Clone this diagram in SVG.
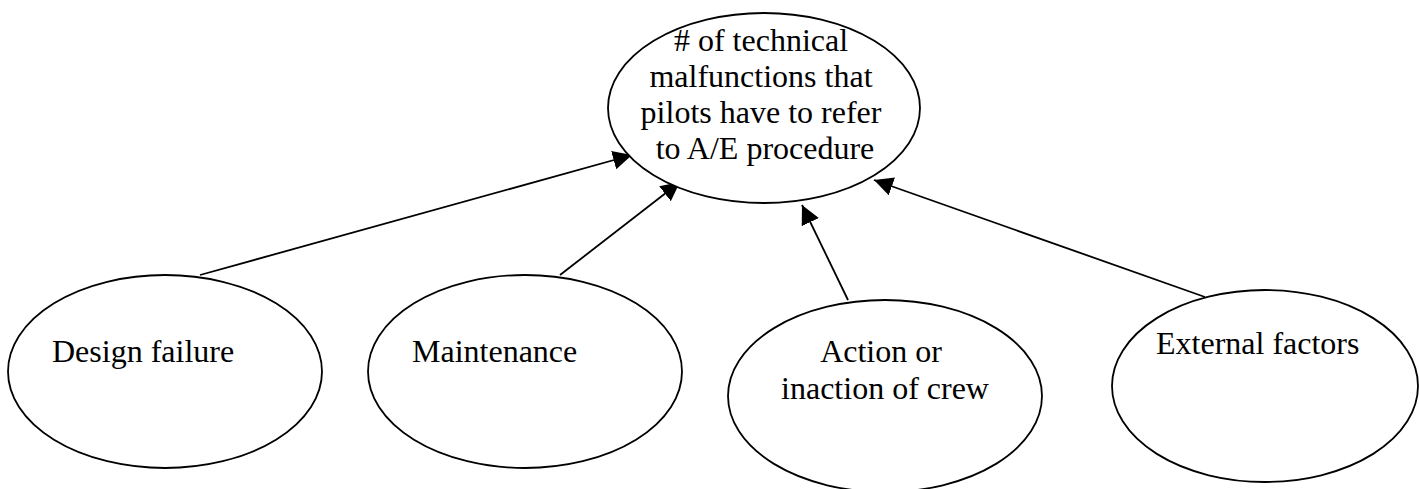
<svg xmlns="http://www.w3.org/2000/svg" width="1419" height="489" viewBox="0 0 1419 489">
  <style>
    .node { fill: #ffffff; stroke: #000000; stroke-width: 1.8; }
    .label { font-family: "Liberation Serif", "Times New Roman", serif; font-size: 32px; fill: #000000; }
    .mid { text-anchor: middle; }
    .edge { fill: none; stroke: #000000; stroke-width: 1.8; }
  </style>
  <defs>
    <marker id="arrow" markerUnits="userSpaceOnUse" markerWidth="20" markerHeight="20" refX="19" refY="9.5" orient="auto">
      <path d="M0,0 L19,9.5 L0,19 Z" fill="#000000"/>
    </marker>
  </defs>
  <rect width="1419" height="489" fill="#ffffff"/>

  <!-- connectors: every cause points to the central outcome -->
  <g id="connectors">
    <line class="edge" x1="200" y1="275" x2="632" y2="155" marker-end="url(#arrow)"/>
    <line class="edge" x1="560" y1="275" x2="680" y2="182" marker-end="url(#arrow)"/>
    <line class="edge" x1="848" y1="300" x2="802" y2="205" marker-end="url(#arrow)"/>
    <line class="edge" x1="1205" y1="297" x2="874" y2="180" marker-end="url(#arrow)"/>
  </g>

  <g id="outcome">
    <ellipse class="node" cx="764" cy="108" rx="156" ry="95"/>
    <text class="label mid" x="765" y="51">
      <tspan x="765" y="51"># of technical</tspan>
      <tspan x="765" y="87">malfunctions that</tspan>
      <tspan x="765" y="123">pilots have to refer</tspan>
      <tspan x="765" y="159">to A/E procedure</tspan>
    </text>
  </g>

  <g id="design-failure">
    <ellipse class="node" cx="165" cy="371.5" rx="157" ry="96.5"/>
    <text class="label" x="52" y="362">Design failure</text>
  </g>

  <g id="maintenance">
    <ellipse class="node" cx="525" cy="371.5" rx="157" ry="96.5"/>
    <text class="label" x="412" y="362">Maintenance</text>
  </g>

  <g id="crew-action">
    <ellipse class="node" cx="885" cy="396" rx="157" ry="96"/>
    <text class="label mid" x="885" y="362">
      <tspan x="885" y="362">Action or</tspan>
      <tspan x="885" y="399">inaction of crew</tspan>
    </text>
  </g>

  <g id="external-factors">
    <ellipse class="node" cx="1265" cy="386" rx="153" ry="96"/>
    <text class="label" x="1156" y="354">External factors</text>
  </g>
</svg>
